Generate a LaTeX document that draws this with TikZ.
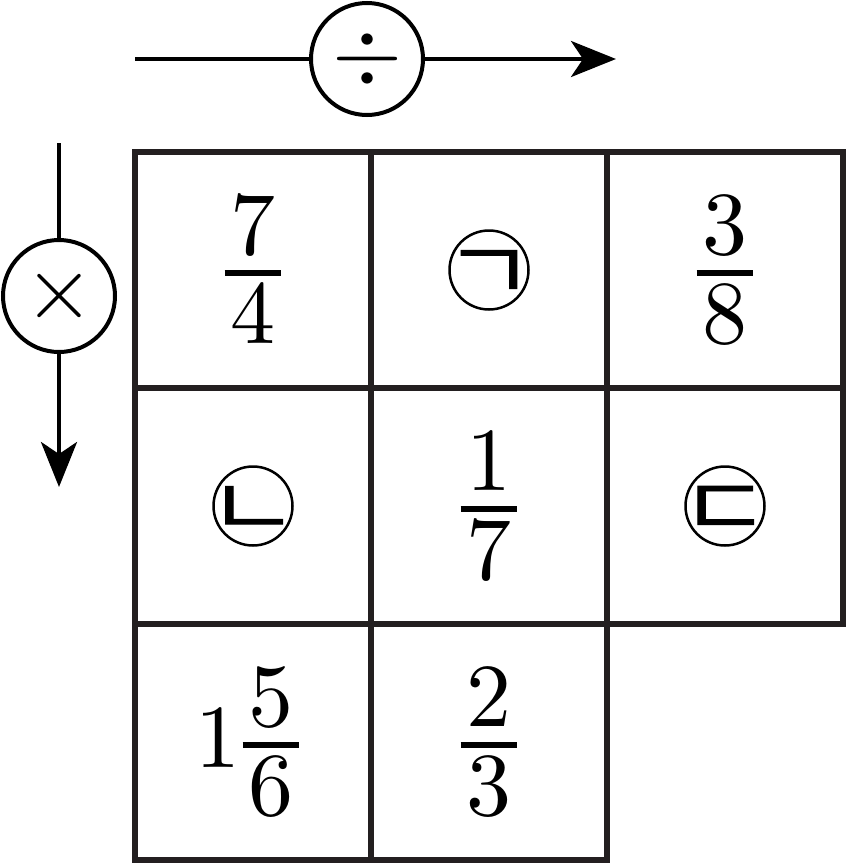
\documentclass[tikz,border=0pt]{standalone}
\usepackage{amsmath}
\usepackage{fontspec}
\usepackage{tikz}
\usetikzlibrary{arrows.meta,positioning}
\IfFontExistsTF{Noto Sans CJK KR DemiLight}
  {\newfontfamily\korean{Noto Sans CJK KR DemiLight}[FakeBold=1]}
  {\IfFontExistsTF{Noto Sans CJK KR Light}
    {\newfontfamily\korean{Noto Sans CJK KR Light}[FakeBold=1]}
    {\newfontfamily\korean{Noto Sans CJK KR}}}
\definecolor{gridgray}{HTML}{231F20}
% big numbers in the boxes
\newcommand{\bignum}[1]{\scalebox{9}{$\displaystyle #1$}}
\newcommand{\ffrac}[2]{\genfrac{}{}{0.6pt}{1}%
  {\kern0.65pt\raisebox{0.6pt}{$#1$}\kern0.65pt}%
  {\kern0.65pt\raisebox{-0.5pt}[\height]{$#2$}\kern0.65pt}}
\newcommand{\jamo}[1]{\makebox[0pt]{\raisebox{-0.3em}[0pt][0pt]{\scalebox{1}[0.82]{#1}}}}
\tikzset{
    cell/.style={
           rectangle,
           draw=gridgray, line width=6.5pt,
           minimum size=236pt,
           inner sep=0pt,
           },
    tag/.style={
           circle,
           draw=black, line width=2.5pt,
           minimum size=79pt,
           inner sep=0pt,
           font=\korean\fontsize{100}{100}\selectfont,
           },
    op/.style={
           circle,
           draw=black, line width=4pt,
           minimum size=112pt,
           inner sep=0pt,
           },
    flow/.style={
           line width=4pt,
           -{Stealth[length=45pt, width=36pt, inset=12pt]},
           },
}

\begin{document}
\begin{tikzpicture}[x=1pt, y=-1pt]
    \useasboundingbox (0,0) rectangle (848,865);

    % Grid: first row
    \node[cell,
    anchor=center] (r1c1) 	% top left box
    at (253,270) {\bignum{\ffrac{7}{4}}};
    \node[cell, right of=r1c1, node distance=236pt] (r1c2) {};
    \node[cell, right of=r1c2, node distance=236pt] (r1c3) {\bignum{\ffrac{3}{8}}};

    % Grid: second row
    \node[cell, below of=r1c1, node distance=236pt] (r2c1) {};
    \node[cell, right of=r2c1, node distance=236pt] (r2c2) {\bignum{\ffrac{1}{7}}};
    \node[cell, right of=r2c2, node distance=236pt] (r2c3) {};

    % Grid: third row (two boxes only)
    \node[cell, below of=r2c1, node distance=236pt] (r3c1) {\bignum{1\kern-1pt\ffrac{5}{6}}};
    \node[cell, right of=r3c1, node distance=236pt] (r3c2) {\bignum{\ffrac{2}{3}}};

    % circled unknowns
    \node[tag] (giyeok) at (r1c2) {\jamo{ㄱ}};
    \node[tag] (nieun)  at (r2c1) {\jamo{ㄴ}};
    \node[tag] (digeut) at (r2c3) {\jamo{ㄷ}};

    % operation along the rows
    \coordinate (divin) at (135,59);
    \node[op] (divop) at (367,59) {\bignum{\div}};
    \coordinate (divout) at (616,59);

    % operation down the columns
    \coordinate (mulin) at (59,143);
    \node[op] (mulop) at (59,296) {\bignum{\times}};
    \coordinate (mulout) at (59,487);

    \draw[line width=4pt] (divin) -- (divop);
    \draw[flow] (divop) -- (divout);
    \draw[line width=4pt] (mulin) -- (mulop);
    \draw[flow] (mulop) -- (mulout);
\end{tikzpicture}
\end{document}
